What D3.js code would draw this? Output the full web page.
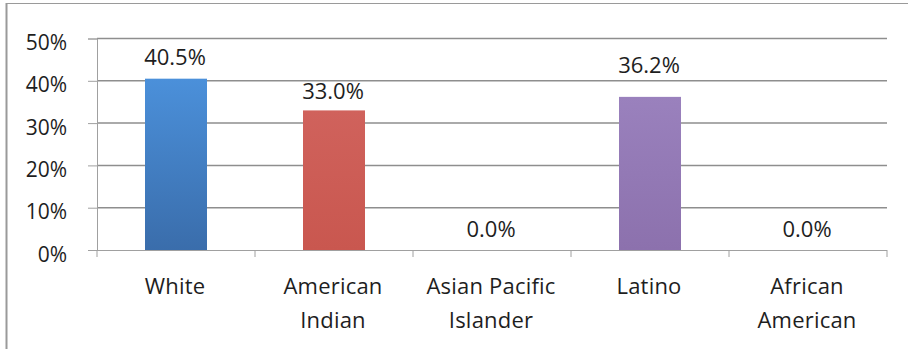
<!DOCTYPE html>
<html>
<head>
<meta charset="utf-8">
<script src="https://cdn.jsdelivr.net/npm/d3@7/dist/d3.min.js"></script>
<style>
  html, body { margin: 0; padding: 0; background: #fff; }
  svg { display: block; }
  text { font-family: "Open Sans", sans-serif; fill: #1e1e1e; }
</style>
</head>
<body>
<svg id="chart" width="908" height="349"></svg>
<script>
// Completion rate by race/ethnicity
const categories = ["White", "American Indian", "Asian Pacific Islander", "Latino", "African American"];
const categoryLines = [["White"], ["American", "Indian"], ["Asian Pacific", "Islander"], ["Latino"], ["African", "American"]];
const values = [40.5, 33.0, 0.0, 36.2, 0.0];
const valueLabels = ["40.5%", "33.0%", "0.0%", "36.2%", "0.0%"];
const yTicks = [0, 10, 20, 30, 40, 50];
const yTickLabels = ["0%", "10%", "20%", "30%", "40%", "50%"];
// extra lift for individual value labels (px)
const labelLift = [1, -2, 0, 11, 0];
const barColors = [
  ["#4b90da", "#3a6dab"],
  ["#d0625c", "#c9574f"],
  ["#9a81bd", "#8c71ad"],
  ["#9a81bd", "#8c71ad"],
  ["#9a81bd", "#8c71ad"]
];

const svg = d3.select("#chart");
const W = 908, H = 349;
const plot = { left: 97, right: 887, top: 38.5, bottom: 250 };

// frame around the figure
svg.append("line").attr("x1", 6).attr("x2", W).attr("y1", 3.5).attr("y2", 3.5)
  .attr("stroke", "#9a9a9a").attr("stroke-width", 1.2);
svg.append("line").attr("x1", 6.5).attr("x2", 6.5).attr("y1", 3).attr("y2", H)
  .attr("stroke", "#9a9a9a").attr("stroke-width", 2);

const x = d3.scaleBand().domain(categories).range([plot.left, plot.right]).paddingInner(0).paddingOuter(0);
const y = d3.scaleLinear().domain([0, 50]).range([plot.bottom, plot.top]);

// gradients for bars
const defs = svg.append("defs");
categories.forEach((c, i) => {
  const g = defs.append("linearGradient").attr("id", "grad" + i)
    .attr("x1", 0).attr("y1", 0).attr("x2", 0).attr("y2", 1);
  g.append("stop").attr("offset", "0%").attr("stop-color", barColors[i][0]);
  g.append("stop").attr("offset", "100%").attr("stop-color", barColors[i][1]);
});

// horizontal gridlines
svg.append("g").selectAll("line").data(yTicks.slice(1)).join("line")
  .attr("x1", plot.left).attr("x2", plot.right)
  .attr("y1", d => y(d)).attr("y2", d => y(d))
  .attr("stroke", "#8e8e8e").attr("stroke-width", 1.5);

// left axis
const yAxis = d3.axisLeft(y).tickValues(yTicks).tickSize(9).tickPadding(0)
  .tickFormat((d, i) => yTickLabels[i]);
const gy = svg.append("g").attr("transform", `translate(${plot.left},0)`).call(yAxis);
gy.select(".domain").attr("stroke", "#a0a0a0").attr("stroke-width", 1);
gy.selectAll(".tick line").attr("stroke", "#a0a0a0");
gy.selectAll(".tick text").attr("x", -30).attr("dy", null).attr("y", 11)
  .attr("text-anchor", "end")
  .style("font-size", "21px").attr("fill", "#1e1e1e");

// bottom axis with ticks between categories
const gx = svg.append("g");
gx.append("line").attr("x1", plot.left).attr("x2", plot.right)
  .attr("y1", plot.bottom + 0.5).attr("y2", plot.bottom + 0.5)
  .attr("stroke", "#a0a0a0").attr("stroke-width", 1);
const boundaries = categories.map(c => x(c)).concat([x(categories[categories.length - 1]) + x.bandwidth()]);
gx.selectAll("line.tk").data(boundaries).join("line").attr("class", "tk")
  .attr("x1", d => d).attr("x2", d => d)
  .attr("y1", plot.bottom).attr("y2", plot.bottom + 7)
  .attr("stroke", "#a0a0a0");

// bars
const barW = 62;
svg.append("g").selectAll("rect").data(values).join("rect")
  .attr("x", (d, i) => x(categories[i]) + x.bandwidth() / 2 - barW / 2)
  .attr("width", barW)
  .attr("y", d => y(d))
  .attr("height", d => y(0) - y(d))
  .attr("fill", (d, i) => `url(#grad${i})`);

// value labels
svg.append("g").selectAll("text").data(values).join("text")
  .attr("x", (d, i) => x(categories[i]) + x.bandwidth() / 2 - 1)
  .attr("y", (d, i) => y(d) - 13 - labelLift[i])
  .attr("text-anchor", "middle")
  .style("font-size", "22px")
  .text((d, i) => valueLabels[i]);

// category labels
const cl = svg.append("g").selectAll("text").data(categoryLines).join("text")
  .attr("text-anchor", "middle")
  .style("font-size", "22px")
  .style("letter-spacing", "0.2px");
cl.each(function (lines, i) {
  const t = d3.select(this);
  lines.forEach((ln, j) => {
    t.append("tspan")
      .attr("x", x(categories[i]) + x.bandwidth() / 2 - 1)
      .attr("y", 294 + j * 34)
      .text(ln);
  });
});
</script>
</body>
</html>
